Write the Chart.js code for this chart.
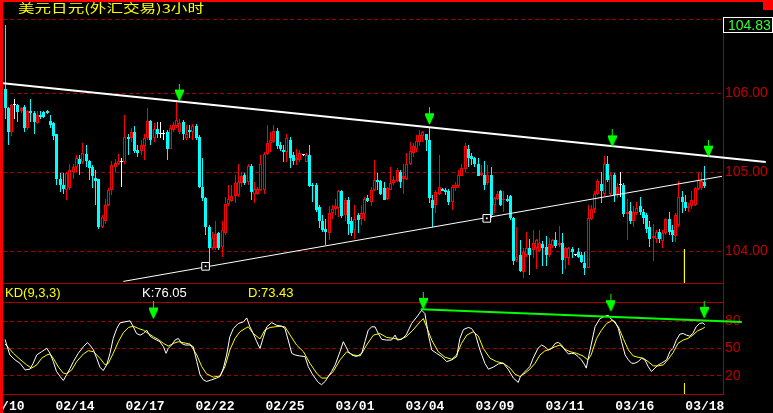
<!DOCTYPE html>
<html><head><meta charset="utf-8">
<script src="https://cdn.jsdelivr.net/npm/chart.js@4.4.1/dist/chart.umd.min.js"></script>
<style>
html,body{margin:0;padding:0;background:#000;width:773px;height:413px;overflow:hidden;}
#wrap{position:relative;width:773px;height:413px;background:#000;}
canvas{position:absolute;left:0;top:0;}
.t{position:absolute;white-space:nowrap;font-family:"Liberation Sans Narrow","Liberation Sans",Arial,sans-serif;}
</style></head><body>
<div id="wrap">
<canvas id="pc" width="773" height="413"></canvas>
<canvas id="kc" width="773" height="413"></canvas>
<div style="position:absolute;left:0;top:0;width:3px;height:413px;background:#ff0000"></div>
<div style="position:absolute;left:0;top:0;width:773px;height:2px;background:#ff0000"></div>
<div style="position:absolute;left:763px;top:0;width:10px;height:10px;background:#ff0000"></div>
<div id="title" class="t" style="left:18px;top:1px;font-family:'Noto Sans CJK SC',sans-serif;font-size:12px;line-height:14px;color:#ffff00;transform:scaleX(1.38);transform-origin:0 0;"></div>
<div id="lastBox" class="t" style="left:723px;top:17px;width:48px;height:14px;border:1px solid #fff;color:#33ff33;font-size:14px;line-height:14px;padding-left:0;text-indent:4px;"></div>
<div id="kdName" class="t" style="left:5px;top:286px;font-size:13px;line-height:13px;color:#ffff00;"></div>
<div id="kLab" class="t" style="left:142px;top:286px;font-size:13px;line-height:13px;color:#ffffff;"></div>
<div id="dLab" class="t" style="left:248px;top:286px;font-size:13px;line-height:13px;color:#ffff00;"></div>
</div>
<script>
// ---------------- data ----------------
const titleText = '美元日元(外汇交易)3小时';
const indicatorName = 'KD(9,3,3)';
const dateLabels = ['02/10','02/14','02/17','02/22','02/25','03/01','03/04','03/09','03/11','03/16','03/18'];
const priceTicks = [104, 105, 106];
const kdTicks = [20, 50, 80];

const opens = [106.06,105.82,105.51,105.85,105.85,105.77,105.83,105.56,105.78,105.75,
105.62,105.73,105.76,105.78,105.65,105.62,105.48,104.92,104.84,104.78,
104.80,105.01,105.07,105.17,105.13,105.23,105.14,105.07,104.93,104.92,
104.31,104.38,104.59,104.78,105.07,105.11,105.13,105.13,105.45,105.43,
105.51,105.28,105.27,105.33,105.43,105.65,105.43,105.55,105.49,105.49,
105.51,105.30,105.54,105.58,105.51,105.64,105.43,105.54,105.51,105.59,
105.45,104.82,104.67,104.31,104.04,104.04,104.23,104.05,104.23,104.60,
104.64,104.70,104.71,104.86,104.97,104.88,105.08,104.73,104.73,104.78,
104.78,105.23,105.37,105.39,105.52,105.35,105.28,105.26,105.41,105.22,
105.16,105.16,105.22,105.13,105.22,104.84,104.84,104.56,104.38,104.28,
104.23,104.49,104.54,104.55,104.76,104.46,104.65,104.38,104.27,104.46,
104.41,104.47,104.68,104.63,104.78,104.90,104.89,104.80,104.66,104.78,
104.86,104.89,105.00,104.92,104.92,105.10,105.24,105.30,105.39,105.46,
105.48,105.41,104.65,104.59,104.73,104.79,104.78,104.76,104.63,104.80,
104.83,104.96,105.04,105.30,105.21,105.18,105.11,104.97,104.97,104.86,
104.97,104.59,104.66,104.76,104.65,104.66,104.70,104.42,103.89,103.95,
103.74,103.95,104.04,104.02,104.04,104.00,104.09,104.06,103.95,104.07,
104.14,104.08,104.10,103.91,103.91,104.03,103.95,103.99,103.95,103.85,
103.79,104.41,104.54,104.73,104.85,104.73,105.10,104.73,104.97,104.73,
104.84,104.84,104.47,104.51,104.38,104.49,104.57,104.50,104.46,104.31,
104.17,104.16,104.25,104.13,104.23,104.41,104.27,104.20,104.33,104.69,
104.63,104.55,104.57,104.59,104.79,104.80,104.88];

const highs = [106.86,105.83,105.87,105.93,105.87,105.83,105.85,105.79,105.93,105.77,
105.77,105.77,105.78,105.79,105.73,105.64,105.49,104.99,104.99,105.00,
105.11,105.11,105.22,105.22,105.37,105.35,105.16,105.09,105.03,104.92,
104.46,104.66,104.80,105.14,105.17,105.23,105.18,105.73,105.49,105.56,
105.58,105.35,105.41,105.49,105.81,105.66,105.62,105.64,105.64,105.54,
105.54,105.60,105.64,105.89,105.68,105.66,105.60,105.60,105.61,105.61,
105.47,105.18,104.69,104.33,104.25,104.38,104.25,104.38,104.69,104.84,
104.84,104.97,105.11,105.01,104.99,105.11,105.10,104.88,104.82,105.22,
105.26,105.60,105.51,105.60,105.56,105.39,105.35,105.49,105.45,105.26,
105.30,105.28,105.23,105.24,105.34,104.86,104.86,104.59,104.46,104.41,
104.57,104.59,104.66,104.78,104.78,104.67,104.69,104.44,104.59,104.48,
104.59,104.69,104.71,104.82,105.16,104.99,104.90,104.88,104.82,105.07,
104.95,105.05,105.03,105.10,105.24,105.39,105.37,105.47,105.54,105.52,
105.49,105.56,104.71,104.78,105.22,104.80,104.80,104.79,104.84,104.88,
105.03,105.11,105.37,105.35,105.24,105.20,105.18,105.09,105.14,105.09,
105.07,104.69,104.76,104.78,104.76,104.71,104.71,104.44,104.31,104.14,
104.04,104.25,104.16,104.27,104.16,104.27,104.13,104.19,104.17,104.16,
104.24,104.32,104.23,104.06,104.06,104.06,103.97,104.04,103.99,103.99,
104.59,104.59,104.76,104.92,105.01,105.21,105.21,105.01,104.99,104.86,
105.01,104.86,104.66,104.63,104.57,104.63,104.69,104.54,104.48,104.38,
104.35,104.27,104.28,104.27,104.42,104.50,104.33,104.48,104.89,104.76,
104.71,104.61,104.76,104.82,104.99,105.01,105.08];

const lows = [105.68,105.35,105.46,105.68,105.64,105.75,105.51,105.54,105.64,105.48,
105.61,105.68,105.69,105.74,105.56,105.41,104.84,104.75,104.73,104.65,
104.78,104.92,105.01,104.97,105.11,105.07,104.90,104.80,104.59,104.28,
104.30,104.35,104.57,104.71,105.01,105.09,104.82,105.11,105.22,105.39,
105.25,105.20,105.22,105.16,105.41,105.35,105.39,105.44,105.43,105.41,
105.16,105.30,105.51,105.56,105.49,105.41,105.41,105.43,105.41,105.41,
104.80,104.64,104.21,103.83,104.02,104.02,104.02,103.93,104.21,104.57,
104.63,104.61,104.69,104.82,104.84,104.84,104.65,104.61,104.71,104.76,
104.73,105.22,105.26,105.37,105.30,105.27,105.13,105.13,105.05,105.09,
105.09,105.13,105.21,105.13,104.82,104.63,104.50,104.29,104.25,104.08,
104.14,104.41,104.46,104.44,104.42,104.38,104.21,104.19,104.16,104.23,
104.33,104.38,104.63,104.57,104.76,104.78,104.71,104.65,104.65,104.78,
104.84,104.88,104.80,104.73,104.90,105.09,105.20,105.26,105.33,105.39,
105.27,104.61,104.31,104.48,104.71,104.76,104.71,104.59,104.52,104.76,
104.80,104.95,105.01,105.07,105.09,105.07,104.95,104.95,104.78,104.84,
104.42,104.48,104.65,104.57,104.50,104.63,104.40,103.83,103.87,103.74,
103.66,103.93,103.70,103.91,103.78,103.99,103.82,103.82,103.93,104.04,
104.04,104.06,103.72,103.78,103.83,103.91,103.94,103.91,103.85,103.70,
103.79,104.40,104.49,104.71,104.61,104.70,104.88,104.71,104.63,104.67,
104.69,104.44,104.14,104.35,104.31,104.46,104.46,104.35,104.23,104.06,
103.88,104.10,104.10,104.04,104.21,104.21,104.12,104.12,104.31,104.48,
104.51,104.50,104.54,104.57,104.78,104.78,104.80];

const closes = [105.82,105.51,105.85,105.85,105.76,105.82,105.56,105.77,105.75,105.64,
105.73,105.70,105.70,105.75,105.60,105.46,104.92,104.84,104.79,104.99,
105.03,105.07,105.18,105.11,105.24,105.14,105.05,104.95,104.89,104.31,
104.44,104.59,104.78,105.09,105.12,105.14,105.13,105.45,105.42,105.51,
105.27,105.25,105.34,105.43,105.65,105.41,105.55,105.48,105.49,105.49,
105.30,105.56,105.60,105.66,105.62,105.48,105.48,105.51,105.59,105.44,
104.81,104.67,104.31,104.04,104.17,104.22,104.04,104.27,104.60,104.66,
104.70,104.87,104.88,104.95,104.87,105.08,104.75,104.79,104.79,105.11,
105.23,105.37,105.41,105.52,105.33,105.30,105.26,105.43,105.18,105.14,
105.18,105.25,105.22,105.22,104.83,104.83,104.52,104.38,104.27,104.25,
104.48,104.54,104.57,104.76,104.45,104.65,104.35,104.23,104.41,104.40,
104.48,104.66,104.64,104.78,104.90,104.88,104.73,104.65,104.80,104.87,
104.90,105.03,104.88,104.95,105.10,105.27,105.33,105.40,105.47,105.51,
105.41,104.67,104.55,104.75,104.81,104.76,104.75,104.63,104.81,104.84,
104.97,105.05,105.33,105.18,105.17,105.11,104.96,104.99,104.84,104.97,
104.46,104.67,104.73,104.59,104.66,104.64,104.42,103.88,103.93,103.75,
103.99,104.04,103.95,104.10,104.14,104.10,104.04,103.95,104.09,104.14,
104.07,104.11,103.89,104.04,104.04,103.99,103.95,103.93,103.86,103.79,
104.42,104.54,104.73,104.89,104.76,105.10,104.90,104.97,104.71,104.82,
104.84,104.47,104.50,104.38,104.50,104.55,104.50,104.42,104.28,104.16,
104.19,104.24,104.16,104.23,104.41,104.24,104.21,104.46,104.69,104.63,
104.55,104.58,104.65,104.80,104.90,104.89,104.83];

// KD(9,3,3) lines: bar position, value
const kBar = [0,1.5,3.1,4.6,6.2,7.7,8.7,9.8,11.3,12.9,13.9,14.9,15.9,17.0,18.0,19.0,20.1,21.1,22.6,24.2,25.4,26.2,27.3,28.3,29.3,30.3,31.4,32.4,33.4,34.5,35.5,37.0,38.6,39.6,40.6,41.7,42.7,43.7,44.8,45.8,46.8,47.8,48.9,49.7,50.4,51.4,52.5,53.5,54.5,55.6,57.1,58.1,59.2,60.2,61.2,62.2,63.8,65.3,66.4,67.4,68.4,69.4,70.5,72.0,73.6,74.6,75.6,76.6,77.7,78.7,79.7,80.8,82.3,83.8,85.4,86.4,87.4,88.5,89.5,91.0,92.6,93.6,94.7,95.7,96.7,97.7,98.8,99.8,100.8,101.9,103.4,104.4,105.2,106.0,107.0,108.5,110.1,111.1,112.1,113.2,114.2,115.2,116.3,117.8,119.3,120.4,121.1,122.4,123.8,125.5,127.1,128.6,129.6,130.7,131.7,133.2,134.8,136.3,137.9,139.4,140.4,141.5,143.0,144.0,145.1,146.6,148.1,149.2,150.7,152.3,153.8,155.4,156.9,158.4,159.0,160.0,161.0,162.0,163.0,164.5,165.6,166.6,167.7,168.7,169.8,170.8,171.8,172.8,173.9,174.9,175.9,176.9,177.9,178.9,179.4,179.9,180.9,182.1,183.6,185.2,186.2,187.2,188.3,189.3,190.3,191.4,192.4,193.4,194.4,195.4,196.5,197.5,198.5,199.5,200.6,201.6,202.6,204.2,205.2,206.2,207.2,208.3,209.3,210.3,211.3,212.3,213.3,214.4,215.4,216];
const kVal = [60,42.9,37.5,33.8,26.5,27.3,33.8,42.9,46.5,50.2,44.7,35.6,24.7,19.3,14.9,21.1,28.4,35.6,44.7,52.0,56.4,53.8,48.4,39.3,29.5,25.8,32.0,44.7,61.1,72.0,78.2,79.3,80.4,73.8,66.5,64.7,66.5,70.2,63.6,61.1,59.3,57.5,52.0,44.7,50.2,53.8,59.3,61.1,55.6,53.8,53.8,52.0,35.6,21.1,15.6,13.8,15.6,17.5,19.3,28.4,42.9,62.9,72.0,77.5,79.3,83.6,73.8,66.5,57.5,50.0,62.0,73.8,78.5,75.6,74.5,72.0,59.3,44.7,42.9,41.8,41.1,30.2,22.9,17.5,12.7,10.2,13.8,19.3,24.7,32.0,46.5,57.5,52.0,46.5,42.9,41.1,44.7,57.5,70.2,73.8,73.8,66.5,60.0,59.3,59.3,64.7,59.3,60.0,64.7,77.5,84.7,92.0,88.4,64.7,48.4,44.7,41.1,35.6,37.5,41.1,61.1,70.9,73.1,72.0,66.5,48.4,33.8,27.3,29.5,33.1,33.8,26.5,17.5,12.7,18.5,22.9,26.5,30.2,39.3,50.2,53.8,52.0,48.4,50.2,55.6,56.7,53.8,48.4,44.0,44.7,44.0,41.1,37.5,32.0,28.4,37.5,53.8,73.8,82.9,85.5,86.5,81.8,79.3,72.0,57.5,42.9,37.5,33.8,33.8,35.6,39.3,37.5,30.2,24.7,28.4,32.0,33.8,37.5,46.5,50.2,59.3,65.8,66.5,64.7,63.6,66.5,73.8,77.5,78.2,76.05];
const dBar = [0,2.6,4.6,6.7,8.2,9.8,11.3,12.9,13.9,14.9,16.5,18.0,19.0,20.6,22.1,24.2,25.7,27.3,29.3,30.9,31.9,33.4,35.0,36.5,38.1,39.6,41.2,42.7,44.2,45.8,47.3,48.9,50.4,52.0,53.5,55.0,57.1,59.2,60.7,62.2,64.3,66.4,67.9,69.4,71.0,72.5,74.1,75.1,76.6,78.7,80.2,81.8,83.3,84.9,86.4,88.0,90.0,92.1,94.1,96.2,97.7,99.3,101.3,103.4,105.5,107.5,109.6,111.6,113.7,115.7,117.8,119.9,121.9,123.8,125.9,128.1,129.1,130.1,131.7,133.7,135.8,137.9,139.4,140.9,142.5,144.5,146.1,147.6,149.7,151.7,153.8,155.9,157.4,158.9,160.5,162.0,163.6,165.1,166.6,168.2,169.8,171.3,172.8,174.4,176.4,178.4,179.9,180.9,182.6,184.1,185.7,187.5,189.3,190.8,192.4,193.9,195.4,197.0,198.5,200.1,201.6,203.2,204.7,206.2,207.7,209.3,210.8,212.3,213.8,215.4,216];
const dVal = [55,44.7,38.2,32.0,28.4,32.0,39.3,42.9,44.0,39.3,29.5,22.9,22.2,26.5,35.6,44.0,47.6,46.5,39.3,32.0,33.8,44.7,57.5,67.3,73.1,74.5,72.0,70.2,66.5,62.9,60.0,55.6,52.7,55.6,57.5,56.4,54.9,42.9,30.2,22.2,18.5,20.0,30.2,48.4,61.1,68.4,72.0,73.8,66.5,60.5,70.2,73.1,73.8,74.5,73.8,64.7,53.8,46.5,33.8,22.9,17.5,17.5,24.7,37.5,46.5,42.9,41.8,53.8,64.7,66.5,62.2,61.1,60.0,62.9,70.2,79.3,82.9,73.8,59.3,46.5,40.4,38.2,42.9,55.6,64.7,68.4,63.6,50.2,39.3,35.6,33.8,28.4,21.8,19.3,22.9,27.3,33.8,42.9,47.3,49.1,52.0,53.8,49.1,46.5,44.7,41.8,37.5,42.9,61.1,70.2,77.5,81.1,73.8,61.1,48.4,41.8,40.4,39.3,35.6,30.9,30.9,32.0,38.2,45.5,55.6,59.3,61.1,64.7,69.5,72.0,73.43];

// drawn annotations, in chart values (bar position, price / KD value)
const upperTrend = [[-0.62,106.127],[234.8,105.131]];
const lowerTrend = [[36.5,103.62],[221.3,104.95]];
const trendAnchors = [[61.9,103.811],[148.7,104.418]];
const priceSignals = [[53.8,106.01],[131.0,105.71],[187.4,105.43],[217.1,105.30]];
const kdSignals = [[45.8,91.8],[129.1,102.4],[187.0,99.8],[215.8,92.5]];
const kdTrend = [[128.3,93.1],[227.4,79.1]];
const cursorBar = 209.7;
const cursorPriceTop = 104.03;
const cursorKdTop = 12.1;

// ---------------- styling ----------------
const UP = '#ff0000', DOWN = '#00ffff', FLAT = '#ffffff';
const GRID = '#a00000', FRAME = '#a80000', AXISTXT = '#c00000';
const NARROW = "'Liberation Sans Narrow','Liberation Sans',Arial,sans-serif";
const X_MIN = -0.62, X_MAX = 221.6;
const P_MIN = 103.60, P_MAX = 106.94;

document.getElementById('title').textContent = titleText;
document.getElementById('lastBox').textContent = closes[closes.length-1].toFixed(2);
document.getElementById('kdName').textContent = indicatorName;
document.getElementById('kLab').textContent = 'K:' + kVal[kVal.length-1].toFixed(2);
document.getElementById('dLab').textContent = 'D:' + dVal[dVal.length-1].toFixed(2);

const pts = arr => arr.map(([x,y]) => ({x, y}));
const dirColor = closes.map((c,i) => c > opens[i] ? UP : (c < opens[i] ? DOWN : FLAT));
const bodyFill = closes.map((c,i) => c > opens[i] ? '#000000' : dirColor[i]);

function makeArrow(){
  const c = document.createElement('canvas');
  c.width = 9; c.height = 18;
  const g = c.getContext('2d');
  g.fillStyle = '#00ff00';
  g.fillRect(4, 0, 1, 7);
  g.beginPath();
  g.moveTo(0,6); g.lineTo(9,6); g.lineTo(9,8); g.lineTo(5,17); g.lineTo(4,17); g.lineTo(0,8);
  g.closePath(); g.fill();
  return c;
}
const arrowImg = makeArrow();

Chart.defaults.animation = false;
Chart.defaults.font.family = NARROW;

// snap candle elements (positioned by the scales) to whole pixels so they stay crisp
const pixelSnap = {
  id: 'pixelSnap',
  beforeDatasetsDraw(chart){
    chart.data.datasets.forEach((ds, di) => {
      const meta = chart.getDatasetMeta(di);
      if (meta.type !== 'bar') return;
      meta.data.forEach(el => {
        el.x = Math.floor(el.x) + 0.5;
        el.y = Math.round(el.y);
        el.base = Math.round(el.base);
      });
    });
  }
};

const priceFrame = {
  id: 'priceFrame',
  afterDraw(chart){
    const {ctx, chartArea:a} = chart;
    ctx.save(); ctx.strokeStyle = FRAME; ctx.lineWidth = 1; ctx.setLineDash([]);
    ctx.beginPath();
    ctx.moveTo(a.left, Math.round(a.bottom)+0.5); ctx.lineTo(a.right, Math.round(a.bottom)+0.5);
    ctx.stroke(); ctx.restore();
  }
};
const kdFrame = {
  id: 'kdFrame',
  beforeDatasetsDraw(chart){
    const {ctx, chartArea:a} = chart;
    ctx.save(); ctx.strokeStyle = FRAME; ctx.lineWidth = 1; ctx.setLineDash([]);
    ctx.beginPath();
    ctx.moveTo(a.left, Math.round(a.top)-0.5); ctx.lineTo(a.right, Math.round(a.top)-0.5);
    ctx.moveTo(a.left, Math.round(a.bottom)+0.5); ctx.lineTo(a.right, Math.round(a.bottom)+0.5);
    ctx.moveTo(Math.round(a.right)+0.5, 283); ctx.lineTo(Math.round(a.right)+0.5, Math.round(a.bottom)+1);
    ctx.stroke(); ctx.restore();
  }
};

new Chart(document.getElementById('pc'), {
  type: 'bar',
  data: {
    datasets: [
      { type:'bar', data: highs.map((h,i)=>({x:i, y:[lows[i], h]})), backgroundColor: dirColor,
        borderWidth:0, barThickness:1, grouped:false, inflateAmount:0, order:5 },
      { type:'bar', data: opens.map((o,i)=>({x:i, y:[o, closes[i]]})), backgroundColor: bodyFill,
        borderColor: dirColor, borderWidth:1, borderSkipped:false, barThickness:3, minBarLength:1,
        grouped:false, inflateAmount:0, order:4 },
      { type:'line', data: pts(upperTrend), borderColor:'#ffffff', borderWidth:2, pointRadius:0, clip:false, order:3 },
      { type:'line', data: pts(lowerTrend), borderColor:'#ffffff', borderWidth:1, pointRadius:0, order:3 },
      { type:'line', data: [{x:cursorBar,y:cursorPriceTop},{x:cursorBar,y:P_MIN}], borderColor:'#ffff00', borderWidth:1, pointRadius:0, order:3 },
      { type:'scatter', data: pts(trendAnchors), pointStyle:'rect', pointRadius:5.4, backgroundColor:'#000000',
        borderColor:'#ffffff', borderWidth:1, order:2 },
      { type:'scatter', data: pts(trendAnchors), pointStyle:'rect', pointRadius:1.2, backgroundColor:'#ffffff',
        borderColor:'#ffffff', borderWidth:0, order:1 },
      { type:'scatter', data: pts(priceSignals), pointStyle: arrowImg, pointRadius:12, clip:false, order:0 }
    ]
  },
  options: {
    responsive:false, devicePixelRatio:1, events:[],
    layout:{ autoPadding:false, padding:{ left:3, top:19, right:0, bottom:130 } },
    plugins:{ legend:{display:false}, tooltip:{enabled:false} },
    scales:{
      x:{ type:'linear', min:X_MIN, max:X_MAX, offset:false, display:false },
      y:{ type:'linear', position:'right', min:P_MIN, max:P_MAX,
          afterBuildTicks: s => { s.ticks = priceTicks.concat([P_MAX]).map(v=>({value:v})); },
          afterFit: s => { s.width = 50; },
          ticks:{ color:AXISTXT, padding:2, font:{size:14, family:NARROW},
                  callback: v => priceTicks.includes(v) ? v.toFixed(2) : '' },
          grid:{ color:GRID, lineWidth:1, drawTicks:false },
          border:{ display:true, color:GRID, dash:[4,3] } }
    }
  },
  plugins:[pixelSnap, priceFrame]
});

new Chart(document.getElementById('kc'), {
  type: 'line',
  data: {
    datasets: [
      { data: dBar.map((b,i)=>({x:b, y:dVal[i]})), borderColor:'#ffff00', borderWidth:1, pointRadius:0, tension:0, order:3 },
      { data: kBar.map((b,i)=>({x:b, y:kVal[i]})), borderColor:'#ffffff', borderWidth:1, pointRadius:0, tension:0, order:2 },
      { data: pts(kdTrend), borderColor:'#00ff00', borderWidth:2, pointRadius:0, clip:false, order:1 },
      { data: [{x:cursorBar,y:0},{x:cursorBar,y:cursorKdTop}], borderColor:'#ffff00', borderWidth:1, pointRadius:0, order:1 },
      { type:'scatter', data: pts(kdSignals), pointStyle: arrowImg, pointRadius:12, clip:false, order:0 }
    ]
  },
  options: {
    responsive:false, devicePixelRatio:1, events:[],
    layout:{ autoPadding:false, padding:{ left:3, top:303, right:0, bottom:0 } },
    plugins:{ legend:{display:false}, tooltip:{enabled:false} },
    scales:{
      x:{ type:'linear', min:X_MIN, max:X_MAX, offset:false,
          afterBuildTicks: s => { s.ticks = dateLabels.map((l,k)=>({value: k * 21.6})); },
          afterFit: s => { s.height = 19; s.paddingLeft = 0; s.paddingRight = 0; },
          ticks:{ color:'#ffffff', autoSkip:false, maxRotation:0, minRotation:0, padding:5,
                  font:{ family:"'Liberation Mono','DejaVu Sans Mono',monospace", size:13, weight:'bold' },
                  callback: (v, idx) => dateLabels[idx] },
          grid:{ display:false, drawTicks:false }, border:{ display:false } },
      y:{ type:'linear', position:'right', min:0, max:100,
          afterBuildTicks: s => { s.ticks = kdTicks.map(v=>({value:v})); },
          afterFit: s => { s.width = 50; },
          ticks:{ color:AXISTXT, padding:2, font:{size:14, family:NARROW}, callback: v => String(v) },
          grid:{ color:GRID, lineWidth:1, drawTicks:false },
          border:{ display:false, dash:[4,3] } }
    }
  },
  plugins:[kdFrame]
});
</script>
</body></html>
